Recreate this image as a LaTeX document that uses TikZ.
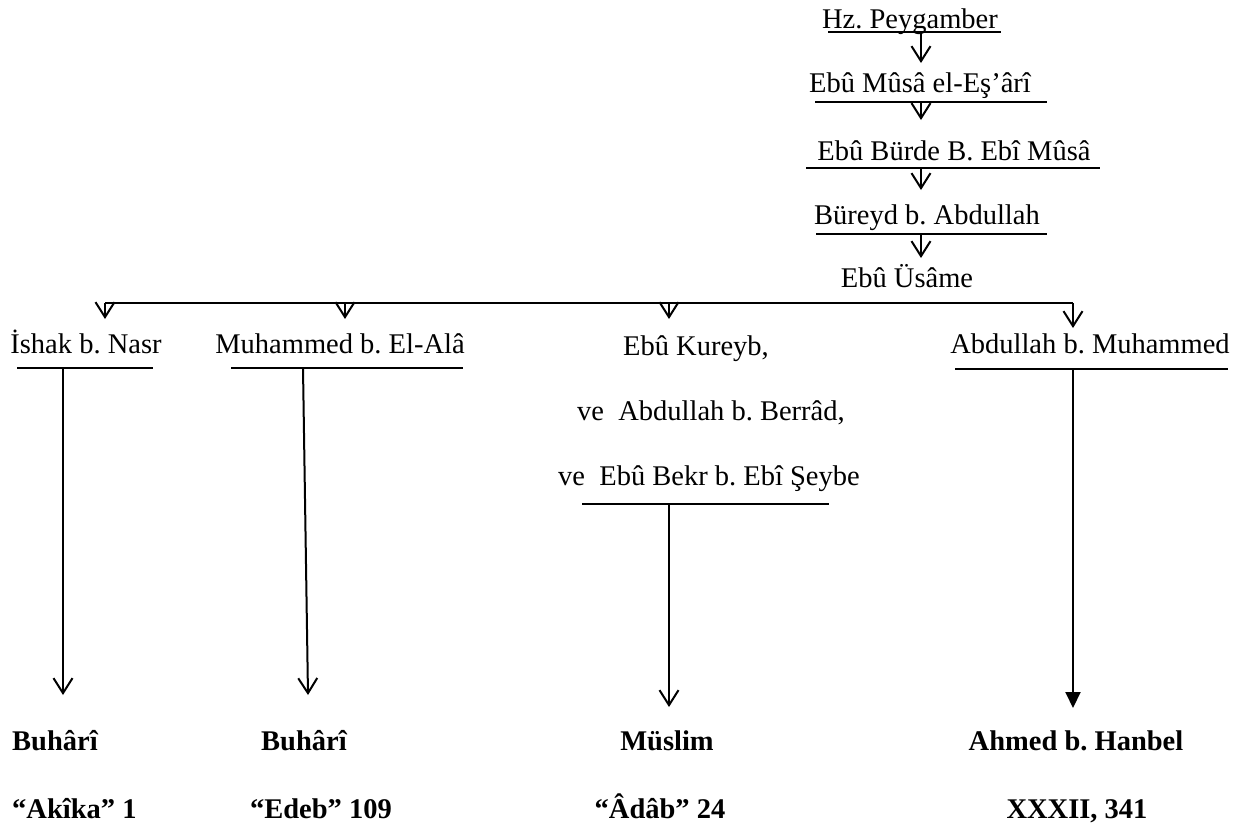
\documentclass[tikz,border=0pt]{standalone}
\usepackage{fontspec}
\setmainfont{Liberation Serif}
\usetikzlibrary{arrows.meta}
\frenchspacing
\tikzset{
  txt/.style={inner sep=0pt, font=\frenchspacing\fontsize{28.5}{34}\selectfont},
  btxt/.style={inner sep=0pt, font=\frenchspacing\fontsize{28.5}{34}\selectfont\bfseries},
  ul/.style={line width=2pt},
  link/.style={line width=2pt, -{Straight Barb[length=15pt,width=19pt,line width=2pt]}},
  flink/.style={line width=2pt, -{Triangle[length=16pt,width=15pt]}}
}
\begin{document}
\begin{tikzpicture}[x=1pt,y=-1pt]
\useasboundingbox (0,0) rectangle (1240,830);
% top chain
\node[txt,anchor=base] (t1) at (910,28) {Hz. Peygamber};
\coordinate (u1a) at (828,32); \coordinate (u1b) at (1001,32);
\draw[ul] (u1a) -- (u1b);
\node[txt,anchor=base] (t2) at (920,92) {Ebû Mûsâ el-Eş’ârî};
\coordinate (u2a) at (815,102); \coordinate (u2b) at (1047,102);
\draw[ul] (u2a) -- (u2b);
\node[txt,anchor=base] (t3) at (954,160) {Ebû Bürde B. Ebî Mûsâ};
\coordinate (u3a) at (806,168); \coordinate (u3b) at (1100,168);
\draw[ul] (u3a) -- (u3b);
\node[txt,anchor=base] (t4) at (927,224) {Büreyd b. Abdullah};
\coordinate (u4a) at (816,234); \coordinate (u4b) at (1047,234);
\draw[ul] (u4a) -- (u4b);
\node[txt,anchor=base] (t5) at (907,287) {Ebû Üsâme};

\coordinate (a1s) at (921,32);  \coordinate (a1e) at (921,63);
\coordinate (a2s) at (921,102); \coordinate (a2e) at (921,120);
\coordinate (a3s) at (921,168); \coordinate (a3e) at (921,190);
\coordinate (a4s) at (921,234); \coordinate (a4e) at (921,258);
\draw[link] (a1s) -- (a1e);
\draw[link] (a2s) -- (a2e);
\draw[link] (a3s) -- (a3e);
\draw[link] (a4s) -- (a4e);

% distribution line
\coordinate (hL) at (105,303);
\coordinate (hB) at (345,303);
\coordinate (hC) at (669,303);
\coordinate (hR) at (1073,303);
\coordinate (dA) at (105,319);
\coordinate (dB) at (345,319);
\coordinate (dC) at (669,319);
\coordinate (dR) at (1073,328);
\draw[ul] (hL) -- (hR);
\draw[link] (hR) -- (dR);
\draw[link] (hL) -- (dA);
\draw[link] (hB) -- (dB);
\draw[link] (hC) -- (dC);

% second row
\node[txt,anchor=base] (n1) at (86,353) {İshak b. Nasr};
\coordinate (v1a) at (17,368); \coordinate (v1b) at (153,368);
\draw[ul] (v1a) -- (v1b);
\node[txt,anchor=base] (n2) at (340,353) {Muhammed b. El-Alâ};
\coordinate (v2a) at (231,368); \coordinate (v2b) at (463,368);
\draw[ul] (v2a) -- (v2b);
\node[txt,anchor=base] (n3a) at (696,355) {Ebû Kureyb,};
\node[txt,anchor=base west] (n3b) at (577,420) {ve\hspace{0.5em}Abdullah b. Berrâd,};
\node[txt,anchor=base west] (n3c) at (558,485) {ve\hspace{0.5em}Ebû Bekr b. Ebî Şeybe};
\coordinate (v3a) at (582,504); \coordinate (v3b) at (829,504);
\draw[ul] (v3a) -- (v3b);
\node[txt,anchor=base] (n4) at (1090,353) {Abdullah b. Muhammed};
\coordinate (v4a) at (955,369); \coordinate (v4b) at (1228,369);
\draw[ul] (v4a) -- (v4b);

% stems
\coordinate (s1) at (63,368);   \coordinate (e1) at (63,695);
\coordinate (s2) at (303,368);  \coordinate (e2) at (308,695);
\coordinate (s3) at (669,504);  \coordinate (e3) at (669,707);
\coordinate (s4) at (1073,369); \coordinate (e4) at (1073,708);
\draw[link] (s1) -- (e1);
\draw[link] (s2) -- (e2);
\draw[link] (s3) -- (e3);
\draw[flink] (s4) -- (e4);

% sources
\node[btxt,anchor=base west] (b1) at (12,750) {Buhârî};
\node[btxt,anchor=base west] (c1) at (12,818) {“Akîka” 1};
\node[btxt,anchor=base] (b2) at (304,750) {Buhârî};
\node[btxt,anchor=base] (c2) at (321,818) {“Edeb” 109};
\node[btxt,anchor=base] (b3) at (667,750) {Müslim};
\node[btxt,anchor=base] (c3) at (660,818) {“Âdâb” 24};
\node[btxt,anchor=base] (b4) at (1076,750) {Ahmed b. Hanbel};
\node[btxt,anchor=base] (c4) at (1077,818) {XXXII, 341};
\end{tikzpicture}
\end{document}
